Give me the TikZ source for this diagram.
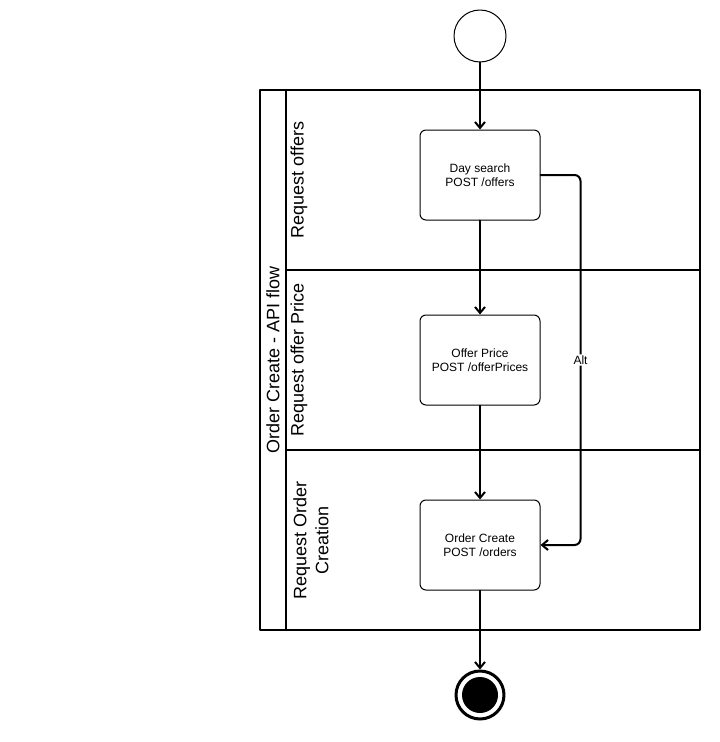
\documentclass[tikz,border=0pt]{standalone}
\usepackage{fontspec}
\setmainfont{Liberation Sans}
\usetikzlibrary{arrows.meta}
\begin{document}
\begin{tikzpicture}[x=.75pt,y=-.75pt,line cap=round,line join=round,
	act/.style={draw,rounded corners=4.5pt,minimum width=90pt,minimum height=67.5pt,align=center,line width=.75pt,font=\fontsize{9}{10.5}\selectfont},
	flow/.style={-{Straight Barb[length=4.5pt,width=7.5pt]},line width=1.5pt},
	lanetxt/.style={rotate=90,align=center,font=\fontsize{13.5}{16.5}\selectfont}]
	\useasboundingbox (0,0) rectangle (720,742);
	% pool and lanes
	\draw[line width=1.5pt] (260,90) rectangle (700,630);
	\draw[line width=1.5pt] (286,90)--(286,630);
	\draw[line width=1.5pt] (286,270)--(700,270);
	\draw[line width=1.5pt] (286,450)--(700,450);
	\node[lanetxt] (pool) at (273,360) {Order Create - API flow};
	\node[lanetxt] (lane1) at (299,180) {Request offers};
	\node[lanetxt] (lane2) at (299,360) {Request offer Price};
	\node[lanetxt] (lane3) at (311,540) {Request Order\\Creation};
	% activities
	\node[draw,circle,minimum size=39pt,inner sep=0,line width=.75pt] (start) at (480,36) {};
	\node[act] (search) at (480,175) {Day search\\POST /offers};
	\node[act] (price) at (480,360) {Offer Price\\POST /offerPrices};
	\node[act] (order) at (480,545) {Order Create\\POST /orders};
	\node[draw,circle,minimum size=36pt,inner sep=0,line width=2.25pt] (stop) at (480,695) {};
	\fill (stop) circle (13.5pt);
	% flows
	\draw[flow] (start)--(search);
	\draw[flow] (search)--(price);
	\draw[flow] (price)--(order);
	\draw[flow] (order)--(stop);
	\draw[flow,rounded corners=4.5pt] (search.east)--++(40,0)|-node[pos=.25,fill=white,inner sep=1pt,font=\fontsize{9}{10.5}\selectfont]{Alt}(order.east);
\end{tikzpicture}
\end{document}
